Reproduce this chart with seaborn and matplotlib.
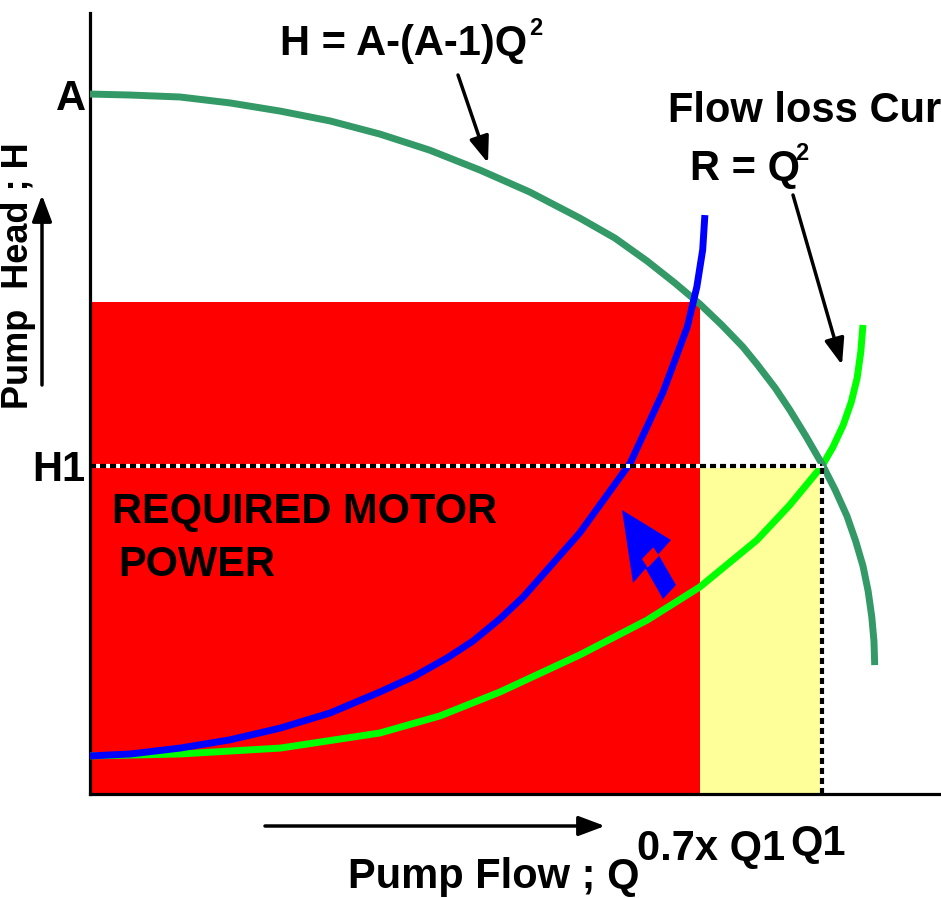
import matplotlib
matplotlib.use("Agg")
import matplotlib.pyplot as plt
import seaborn as sns
from matplotlib.patches import Polygon

# ---------------- data (Q in units of Q1, H in units of H1) ----------------
pump_Q = [0.0, 0.055, 0.123, 0.191, 0.260, 0.328, 0.396, 0.464, 0.533, 0.601,
          0.669, 0.717, 0.761, 0.799, 0.833, 0.863, 0.892, 0.911, 0.936, 0.956,
          0.978, 1.0, 1.018, 1.034, 1.046, 1.056, 1.063, 1.068, 1.071, 1.072]
pump_H = [2.134, 2.131, 2.125, 2.107, 2.082, 2.052, 2.012, 1.963, 1.902, 1.835,
          1.756, 1.695, 1.625, 1.558, 1.494, 1.430, 1.363, 1.311, 1.238, 1.171,
          1.091, 1.006, 0.927, 0.848, 0.771, 0.695, 0.619, 0.540, 0.466, 0.393]

steep_Q = [0.0, 0.055, 0.123, 0.191, 0.260, 0.328, 0.396, 0.444, 0.488, 0.523,
           0.560, 0.592, 0.669, 0.738, 0.783, 0.816, 0.829, 0.837, 0.840]
steep_H = [0.116, 0.122, 0.140, 0.165, 0.201, 0.247, 0.311, 0.360, 0.415, 0.466,
           0.534, 0.601, 0.796, 1.009, 1.226, 1.424, 1.546, 1.659, 1.765]

loss_Q = [0.0, 0.123, 0.260, 0.396, 0.478, 0.560, 0.669, 0.761, 0.833, 0.911,
          0.956, 1.0, 1.015, 1.029, 1.040, 1.048, 1.053, 1.056]
loss_H = [0.116, 0.122, 0.140, 0.186, 0.238, 0.311, 0.424, 0.530, 0.631, 0.774,
          0.881, 1.0, 1.058, 1.125, 1.195, 1.268, 1.348, 1.430]

Q1, H1, A = 1.0, 1.0, 2.134
Q_red, H_red = 0.833, 1.5
ytick_vals = [H1, A]
ytick_labels = ["H1", "A"]

# ---------------- style ----------------
sns.set_theme(style="white")
plt.rcParams["font.family"] = ["Liberation Sans", "DejaVu Sans"]
plt.rcParams["font.weight"] = "bold"
for k in ["text.color", "axes.labelcolor", "xtick.color", "ytick.color"]:
    plt.rcParams[k] = "black"

W, HP = 941, 898
X0, Y0, SX, SY = 90, 794, 732, 328
fig = plt.figure(figsize=(W / 100, HP / 100), dpi=100)
ax = fig.add_axes([X0 / W, (HP - Y0) / HP, (W - X0) / W, (Y0 - 13) / HP])
ax.set_xlim(0, (W - X0) / SX)
ax.set_ylim(0, (Y0 - 13) / SY)


def d(px, py):
    return ((px - X0) / SX, (Y0 - py) / SY)


def f(px, py):
    return (px / W, 1 - py / HP)


# rectangles (power areas)
ax.bar([0, Q_red], [H_red, H1], width=[Q_red, Q1 - Q_red], align="edge",
       color=["#FF0000", "#FFFF99"], linewidth=0, zorder=1)

# curves
line_kw = dict(lw=5, sort=False, estimator=None, ax=ax, solid_capstyle="butt",
               solid_joinstyle="round")
sns.lineplot(x=loss_Q, y=loss_H, color="#00FF00", zorder=3, **line_kw)
sns.lineplot(x=pump_Q, y=pump_H, color="#339966", zorder=4, **line_kw)
sns.lineplot(x=steep_Q, y=steep_H, color="#0000FF", zorder=5, **line_kw)

# operating point dashed lines
ax.plot([0, Q1], [H1, H1], color="black", lw=3, dashes=(1.45, 0.95), gapcolor="white", zorder=6)
ax.plot([Q1, Q1], [0, H1], color="black", lw=3, dashes=(1.45, 0.95), gapcolor="white", zorder=6)

# axes styling
for s in ["top", "right"]:
    ax.spines[s].set_visible(False)
for s in ["left", "bottom"]:
    ax.spines[s].set_color("black")
    ax.spines[s].set_linewidth(2.3)
ax.set_xticks([])
ax.set_yticks(ytick_vals, ytick_labels)
ax.tick_params(axis="y", length=0, pad=3, labelsize=30)
for t in ax.get_yticklabels():
    t.set_fontweight("bold")

# blue block arrow
arrow_pts = [(622, 510), (671, 540), (658.3, 554.4), (676, 585), (663, 599),
             (645.7, 568.6), (633, 583)]
ax.add_patch(Polygon([d(*p) for p in arrow_pts], closed=True, facecolor="#0000FF",
                     edgecolor="none", zorder=7))
notch_pts = [(653.3, 547.3), (659, 556), (647.7, 567.7), (642, 559)]
ax.add_patch(Polygon([d(*p) for p in notch_pts], closed=True, facecolor="#FF0000",
                     edgecolor="none", zorder=8))

# texts
fs = 30
fig.text(*f(280, 55), "H = A-(A-1)Q", fontsize=fs, fontweight="bold", ha="left", va="baseline")
fig.text(*f(529, 35), "2", fontsize=17, fontweight="bold", ha="left", va="baseline")
fig.text(*f(668, 122), "Flow loss Curve", fontsize=fs, fontweight="bold", ha="left", va="baseline")
fig.text(*f(690, 180), "R = Q", fontsize=fs, fontweight="bold", ha="left", va="baseline")
fig.text(*f(795, 160), "2", fontsize=17, fontweight="bold", ha="left", va="baseline")
ax.text(*d(112, 523), "REQUIRED MOTOR", fontsize=fs, fontweight="bold", ha="left", va="baseline", zorder=9)
ax.text(*d(118, 576), "POWER", fontsize=fs, fontweight="bold", ha="left", va="baseline", zorder=9)
fig.text(*f(348, 888), "Pump Flow ; Q", fontsize=fs, fontweight="bold", ha="left", va="baseline")
fig.text(*f(637, 860), "0.7x Q1", fontsize=fs, fontweight="bold", ha="left", va="baseline")
fig.text(*f(790, 855), "Q1", fontsize=fs, fontweight="bold", ha="left", va="baseline")
fig.text(*f(28, 276), "Pump  Head ; H", fontsize=26, fontweight="bold", rotation=90,
         rotation_mode="anchor", ha="center", va="baseline")

# black arrows
aprops = dict(arrowstyle="-|>,head_length=0.8,head_width=0.3", mutation_scale=20,
              lw=2.5, color="black", shrinkA=0, shrinkB=0)
ax.annotate("", xy=d(488, 163), xytext=d(458, 75), arrowprops=aprops, zorder=9)
ax.annotate("", xy=d(842, 365), xytext=d(793, 195), arrowprops=aprops, zorder=9)
ax.annotate("", xy=(42, HP - 195), xytext=(42, HP - 385), xycoords="figure pixels",
            textcoords="figure pixels", arrowprops=aprops, annotation_clip=False)
ax.annotate("", xy=(605, HP - 826), xytext=(265, HP - 826), xycoords="figure pixels",
            textcoords="figure pixels", arrowprops=aprops, annotation_clip=False)

fig.savefig("out.png", dpi=100)
